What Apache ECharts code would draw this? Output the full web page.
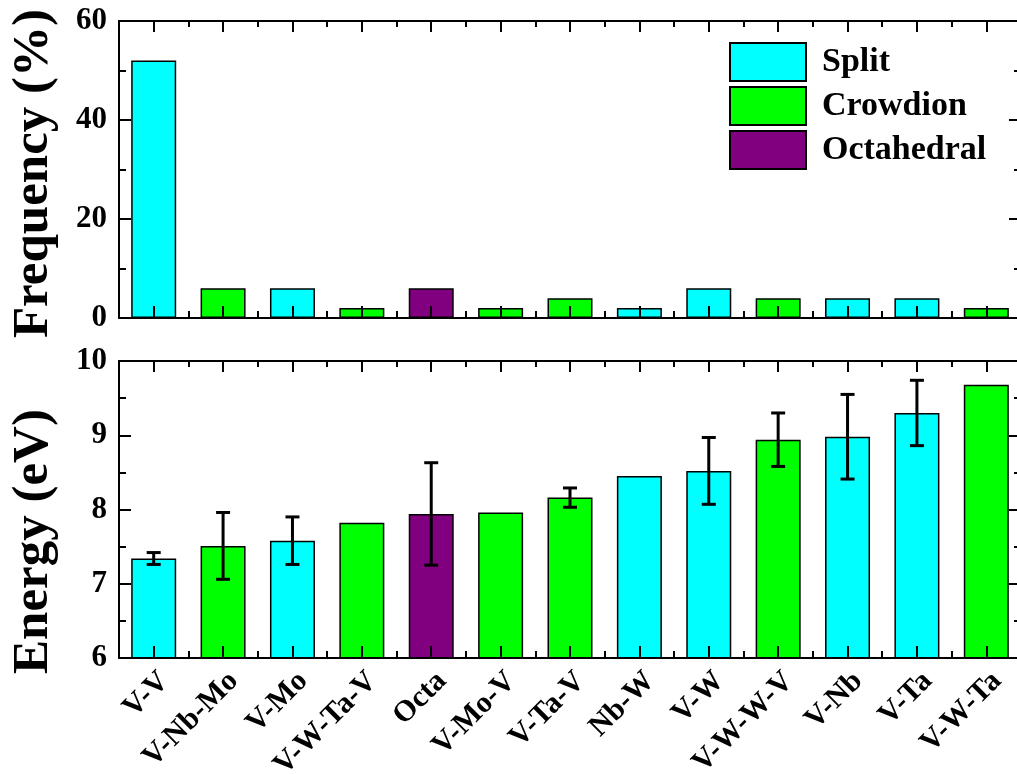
<!DOCTYPE html>
<html>
<head>
<meta charset="utf-8">
<script src="https://cdn.jsdelivr.net/npm/echarts@6/dist/echarts.min.js"></script>
<style>
  html, body { margin: 0; padding: 0; background: #fff; }
  #chart { width: 1017px; height: 774px; }
</style>
</head>
<body>
<div id="chart"></div>
<script>
const categories = ['V-V', 'V-Nb-Mo', 'V-Mo', 'V-W-Ta-V', 'Octa', 'V-Mo-V', 'V-Ta-V', 'Nb-W', 'V-W', 'V-W-W-V', 'V-Nb', 'V-Ta', 'V-W-Ta'];
const types = ['Split', 'Crowdion', 'Split', 'Crowdion', 'Octahedral', 'Crowdion', 'Crowdion', 'Split', 'Split', 'Crowdion', 'Split', 'Split', 'Crowdion'];
const frequency = [52, 6, 6, 2, 6, 2, 4, 2, 6, 4, 4, 4, 2];
const energy = [7.34, 7.51, 7.58, 7.82, 7.94, 7.96, 8.16, 8.45, 8.52, 8.94, 8.98, 9.30, 9.68];
const energyErr = [0.08, 0.45, 0.32, 0, 0.69, 0, 0.13, 0, 0.45, 0.36, 0.57, 0.44, 0];
const typeNames = ['Split', 'Crowdion', 'Octahedral'];
const typeColors = ['#00ffff', '#00ff00', '#800080'];

const font = 'Liberation Serif';
const black = '#000';

const lineStyle = { color: black, width: 2 };

// four x axes per grid: bottom/top, ticks at centers and at boundaries
const xAxesFor = (gridIndex, withLabels) => [
    {
        type: 'category', gridIndex, data: categories, position: 'bottom', z: 5,
        axisLine: { show: true, lineStyle },
        axisTick: { show: true, inside: true, alignWithLabel: true, interval: 0, length: 12, lineStyle },
        axisLabel: withLabels ? {
            rotate: 45, margin: 8, interval: 0, verticalAlign: 'top',
            fontFamily: font, fontWeight: 'bold', fontSize: 30, color: black
        } : { show: false }
    },
    {
        type: 'category', gridIndex, data: categories, position: 'bottom', z: 5,
        axisLine: { show: false },
        axisTick: { show: true, inside: true, interval: 0, length: 7, lineStyle },
        axisLabel: { show: false }
    },
    {
        type: 'category', gridIndex, data: categories, position: 'top', z: 5,
        axisLine: { show: true, lineStyle },
        axisTick: { show: true, inside: true, alignWithLabel: true, interval: 0, length: 11, lineStyle },
        axisLabel: { show: false }
    },
    {
        type: 'category', gridIndex, data: categories, position: 'top', z: 5,
        axisLine: { show: false },
        axisTick: { show: true, inside: true, interval: 0, length: 6, lineStyle },
        axisLabel: { show: false }
    }
];

const yAxesFor = (gridIndex, min, max, interval, name, namePad) => [
    {
        type: 'value', gridIndex, min, max, interval, position: 'left', z: 5,
        name, nameLocation: 'middle', nameGap: 60,
        nameTextStyle: { fontFamily: font, fontWeight: 'bold', fontSize: 51, color: black, padding: namePad },
        axisLine: { show: true, lineStyle },
        axisTick: { show: true, inside: true, length: 12, lineStyle },
        minorTick: { show: true, splitNumber: 2, length: 7, lineStyle },
        splitLine: { show: false },
        axisLabel: { margin: 12, fontFamily: font, fontWeight: 'bold', fontSize: 31, color: black }
    },
    {
        type: 'value', gridIndex, min, max, interval, position: 'right', z: 5,
        axisLine: { show: true, lineStyle },
        axisTick: { show: true, inside: true, length: 12, lineStyle },
        minorTick: { show: true, splitNumber: 2, length: 7, lineStyle },
        splitLine: { show: false },
        axisLabel: { show: false }
    }
];

const barSeries = (gridIndex, values) => typeNames.map((name, k) => ({
    name,
    type: 'bar',
    xAxisIndex: gridIndex * 4,
    yAxisIndex: gridIndex * 2,
    barWidth: 45,
    barGap: '-100%',
    itemStyle: { color: typeColors[k], borderColor: black, borderWidth: 1.5 },
    data: values.map((v, i) => (types[i] === name ? v : '-'))
}));

const errData = energy
    .map((e, i) => [i, e - energyErr[i], e + energyErr[i], energyErr[i]])
    .filter((d) => d[3] > 0);

const errorSeries = {
    type: 'custom',
    xAxisIndex: 4,
    yAxisIndex: 2,
    z: 10,
    data: errData,
    renderItem: function (params, api) {
        const idx = api.value(0);
        const lo = api.coord([idx, api.value(1)]);
        const hi = api.coord([idx, api.value(2)]);
        const cap = 7;
        const style = { stroke: black, lineWidth: 3 };
        return {
            type: 'group',
            children: [
                { type: 'line', shape: { x1: hi[0], y1: hi[1], x2: lo[0], y2: lo[1] }, style },
                { type: 'line', shape: { x1: hi[0] - cap, y1: hi[1], x2: hi[0] + cap, y2: hi[1] }, style },
                { type: 'line', shape: { x1: lo[0] - cap, y1: lo[1], x2: lo[0] + cap, y2: lo[1] }, style }
            ]
        };
    }
};

const chart = echarts.init(document.getElementById('chart'));
chart.setOption({
    animation: false,
    backgroundColor: '#fff',
    legend: {
        data: typeNames,
        orient: 'vertical',
        left: 724,
        top: 37,
        itemWidth: 76,
        itemHeight: 38,
        itemGap: 4,
        icon: 'rect',
        selectedMode: false,
        textStyle: { fontFamily: font, fontWeight: 'bold', fontSize: 34, lineHeight: 38, color: black, padding: [0, 0, 0, 11] }
    },
    grid: [
        { left: 119, width: 902, top: 21, height: 297, outerBoundsMode: 'none' },
        { left: 119, width: 902, top: 361, height: 297, outerBoundsMode: 'none' }
    ],
    xAxis: [...xAxesFor(0, false), ...xAxesFor(1, true)],
    yAxis: [
        ...yAxesFor(0, 0, 60, 20, 'Frequency (%)', [0, 8, 0, 0]),
        ...yAxesFor(1, 6, 10, 1, 'Energy (eV)', [0, 64, 0, 0])
    ],
    series: [...barSeries(0, frequency), ...barSeries(1, energy), errorSeries]
});
</script>
</body>
</html>
